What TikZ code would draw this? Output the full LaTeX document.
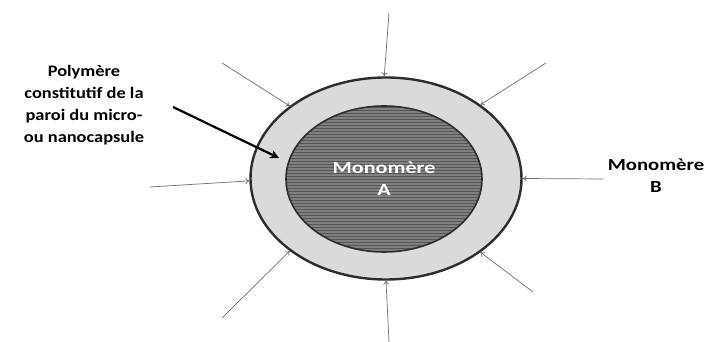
\documentclass[tikz,border=0pt]{standalone}
\usepackage{fontspec}
\setmainfont{Carlito}
\usetikzlibrary{arrows.meta,shapes.geometric,patterns}
\definecolor{ringfill}{RGB}{218,218,218}
\definecolor{corefill}{RGB}{128,128,128}
\definecolor{coretex}{RGB}{85,85,85}
\definecolor{edgecol}{RGB}{45,45,45}
\definecolor{thinarrow}{RGB}{110,110,110}
\tikzset{
  lbl/.style={font=\fontsize{16}{22}\selectfont\bfseries\addfontfeature{FakeStretch=1.15}, align=center, inner sep=0pt},
  widelbl/.style={font=\fontsize{17}{22}\selectfont\bfseries\addfontfeature{FakeStretch=1.3}, align=center, inner sep=0pt},
  sidelbl/.style={font=\fontsize{17}{22}\selectfont\bfseries\addfontfeature{FakeStretch=1.22}, align=center, inner sep=0pt},
  feed/.style={draw=thinarrow, line width=0.7pt, -{To[length=4pt,width=6pt]}},
  pointer/.style={draw=black, line width=2.2pt, -{Stealth[length=9pt,width=9pt]}}
}
\begin{document}
\begin{tikzpicture}[x=1pt,y=1pt]
\useasboundingbox (0,0) rectangle (712,342);
\fill[white] (0,0) rectangle (712,342);
% capsule
\node[ellipse, draw=edgecol, line width=2.4pt, fill=ringfill, inner sep=0pt,
      minimum width=271pt, minimum height=202pt] (outer) at (386,163.5) {};
\node[ellipse, draw=edgecol, line width=1.6pt, preaction={fill=corefill},
      pattern=horizontal lines, pattern color=coretex, inner sep=0pt,
      minimum width=196pt, minimum height=146pt] (inner) at (384,163) {};
\node[widelbl, text=white] (monoA) at (384,163) {Monomère\\A};
% labels
\node[lbl] (poly) at (84,236.5) {Polymère\\constitutif de la\\paroi du micro-\\ou nanocapsule};
\node[sidelbl] (monoB) at (656,166) {Monomère\\B};
% feed arrows
\coordinate (sTop) at (389,329);
\coordinate (sUL) at (222,279);
\coordinate (sUR) at (546,279);
\coordinate (sL) at (150,155);
\coordinate (sR) at (603,163);
\coordinate (sLL) at (222,24);
\coordinate (sBot) at (389,0);
\coordinate (sLR) at (533,50);
\draw[feed] (sTop) -- (outer.91);
\draw[feed] (sUL) -- (outer.143);
\draw[feed] (sUR) -- (outer.38);
\draw[feed] (sL) -- (outer.181);
\draw[feed] (sR) -- (outer.0);
\draw[feed] (sLL) -- (outer.217);
\draw[feed] (sBot) -- (outer.270);
\draw[feed] (sLR) -- (outer.322);
% pointer
\coordinate (pStart) at (173,235);
\coordinate (pEnd) at (279,184);
\draw[pointer] (pStart) -- (pEnd);
\end{tikzpicture}
\end{document}
